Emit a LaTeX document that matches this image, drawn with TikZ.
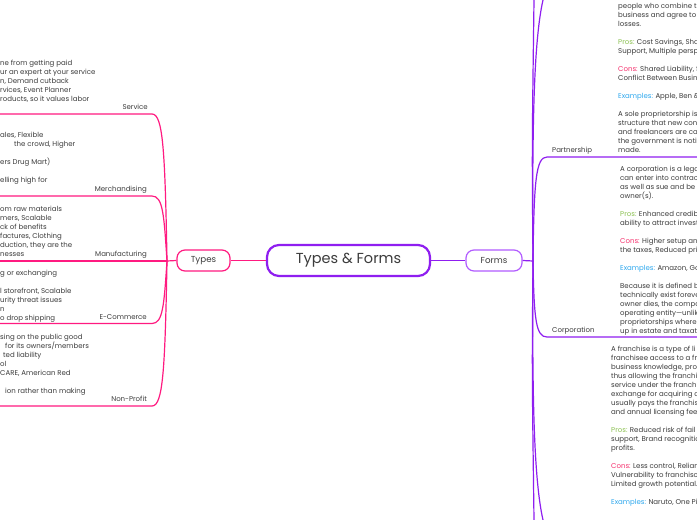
\documentclass[tikz,border=0pt]{standalone}
\usepackage{fontspec}
\setmainfont{Poppins}
\definecolor{pinkb}{HTML}{FF1A80}
\definecolor{purb}{HTML}{8F1EF0}
\definecolor{purl}{HTML}{B25CFF}
\definecolor{txtc}{HTML}{3C3C3C}
\definecolor{prosc}{HTML}{8CC152}
\definecolor{consc}{HTML}{F5326E}
\definecolor{exc}{HTML}{2EA8EE}
\newcommand\fst{\rule{0pt}{7pt}}
\newcommand\pros{\textcolor{prosc}{Pros:}}
\newcommand\cons{\textcolor{consc}{Cons:}}
\newcommand\exs{\textcolor{exc}{Examples:}}
\begin{document}
\begin{tikzpicture}[x=1pt,y=-1pt,
  blk/.style={inner sep=0pt, align=left, anchor=north west, text=txtc, font=\fontsize{7}{9}\selectfont},
  lbl/.style={inner sep=0pt, text=txtc, font=\fontsize{7}{9}\selectfont},
  pinkline/.style={draw=pinkb, line width=1.2pt},
  purline/.style={draw=purb, line width=1.2pt},
  topic/.style={rounded corners=8pt, line width=1.2pt, minimum height=21pt, text=txtc, font=\fontsize{8.7}{10}\selectfont, inner sep=0pt}]
\useasboundingbox (0,0) rectangle (697,520);
\fill[white] (0,0) rectangle (697,520);
\clip (0,0) rectangle (697,520);

% central
\node[draw=purb, line width=2.2pt, rounded corners=12pt, minimum width=163pt, minimum height=31pt, text=txtc, font=\fontsize{14.5}{16}\selectfont, inner sep=0pt] (c) at (348.5,260.5) {Types \& Forms};
\node[topic, draw=pinkb, minimum width=53pt] (ty) at (203.5,260.5) {Types};
\node[topic, draw=purl, minimum width=56pt] (fo) at (494,260.5) {Forms};
\draw[pinkline] (c.west) -- (ty.east);
\draw[purline] (c.east) -- (fo.west);

% left hub
\coordinate (hl) at (167,261);
\draw[pinkline] (ty.west) -- (hl);
\node[lbl, anchor=base east] (sv) at (148,109.5) {Service};
\node[lbl, anchor=base east] (me) at (147,191.5) {Merchandising};
\node[lbl, anchor=base east] (ma) at (147,256.5) {Manufacturing};
\node[lbl, anchor=base east] (ec) at (147,319) {E-Commerce};
\node[lbl, anchor=base east] (np) at (147,401.5) {Non-Profit};
\coordinate (svA) at (152,114); \coordinate (svB) at (0,114);
\coordinate (meA) at (152,196); \coordinate (meB) at (0,196);
\coordinate (maB) at (0,261);
\coordinate (ecA) at (152,323.5); \coordinate (ecB) at (0,323.5);
\coordinate (npA) at (152,406); \coordinate (npB) at (0,406);
\draw[pinkline] (hl) .. controls (165,150) and (163,114) .. (svA) -- (svB);
\draw[pinkline] (hl) .. controls (164,215) and (163,196) .. (meA) -- (meB);
\draw[pinkline] (hl) -- (maB);
\draw[pinkline] (hl) .. controls (164,305) and (163,323.5) .. (ecA) -- (ecB);
\draw[pinkline] (hl) .. controls (165,370) and (163,406) .. (npA) -- (npB);

% left texts
\node[blk] (t1) at (0,58.5) {\fst ne from getting paid\\ur an expert at your service\\n, Demand cutback\\rvices, Event Planner\\roducts, so it values labor};
\node[blk] (t2) at (0,130.5) {\fst ales, Flexible\\\hspace*{14pt}the crowd, Higher\\[9pt]ers Drug Mart)\\[9pt]elling high for};
\node[blk] (t3) at (0,204.5) {\fst om raw materials\\mers, Scalable\\ck of benefits\\factures, Clothing\\duction, they are the\\nesses};
\node[blk] (t4) at (0,268.5) {\fst g or exchanging\\[9pt]l storefront, Scalable\\urity threat issues\\n\\o drop shipping};
\node[blk] (t5) at (0,332.5) {\fst sing on the public good\\\hspace*{5pt}for its owners/members\\\hspace*{3pt}ted liability\\ol\\CARE, American Red\\[9pt]\hspace*{5pt}ion rather than making};

% right hub
\coordinate (hr) at (533,261);
\draw[purline] (fo.east) -- (hr);
\node[lbl, anchor=base west] (pa) at (552,152) {Partnership};
\node[lbl, anchor=base west] (co) at (552,332.5) {Corporation};
\coordinate (paA) at (547,157); \coordinate (paB) at (697,157);
\coordinate (coA) at (547,337); \coordinate (coB) at (697,337);
\coordinate (up1) at (534,0); \coordinate (up2) at (543,0);
\coordinate (dn1) at (534,520); \coordinate (dn2) at (543,520);
\draw[purline] (hr) .. controls (534,180) and (536,157) .. (paA) -- (paB);
\draw[purline] (hr) .. controls (534,320) and (536,337) .. (coA) -- (coB);
\draw[purline] (hr) .. controls (532,150) .. (up1);
\draw[purline] (hr) .. controls (532,120) and (534,40) .. (up2);
\draw[purline] (hr) .. controls (532,370) .. (dn1);
\draw[purline] (hr) .. controls (532,400) and (534,480) .. (dn2);

% right texts
\node[blk] (r1) at (618,1.5) {\fst people who combine the\\business and agree to sh\\losses.\\[9pt]\pros{} Cost Savings, Shar\\Support, Multiple perspe\\[9pt]\cons{} Shared Liability, Sl\\Conflict Between Busine\\[9pt]\exs{} Apple, Ben \&};
\node[blk] (r2) at (618,109.5) {\fst A sole proprietorship is\\structure that new contr\\and freelancers are cat\\the government is notif\\made.};
\node[blk] (r3) at (620,164.5) {\fst A corporation is a lega\\can enter into contract\\as well as sue and be s\\owner(s).\\[9pt]\pros{} Enhanced credibi\\ability to attract invest\\[9pt]\cons{} Higher setup and\\the taxes, Reduced pri\\[9pt]\exs{} Amazon, Go\\[9pt]Because it is defined b\\technically exist foreve\\owner dies, the compa\\operating entity—unlik\\proprietorships where\\up in estate and taxati};
\node[blk] (r4) at (611,344.5) {\fst A franchise is a type of li\\franchisee access to a fra\\business knowledge, proc\\thus allowing the franchis\\service under the franchis\\exchange for acquiring a\\usually pays the franchiso\\and annual licensing fees\\[9pt]\pros{} Reduced risk of fail\\support, Brand recognitio\\profits.\\[9pt]\cons{} Less control, Relian\\Vulnerability to franchiso\\Limited growth potential.\\[9pt]\exs{} Naruto, One Pi};
\end{tikzpicture}
\end{document}
